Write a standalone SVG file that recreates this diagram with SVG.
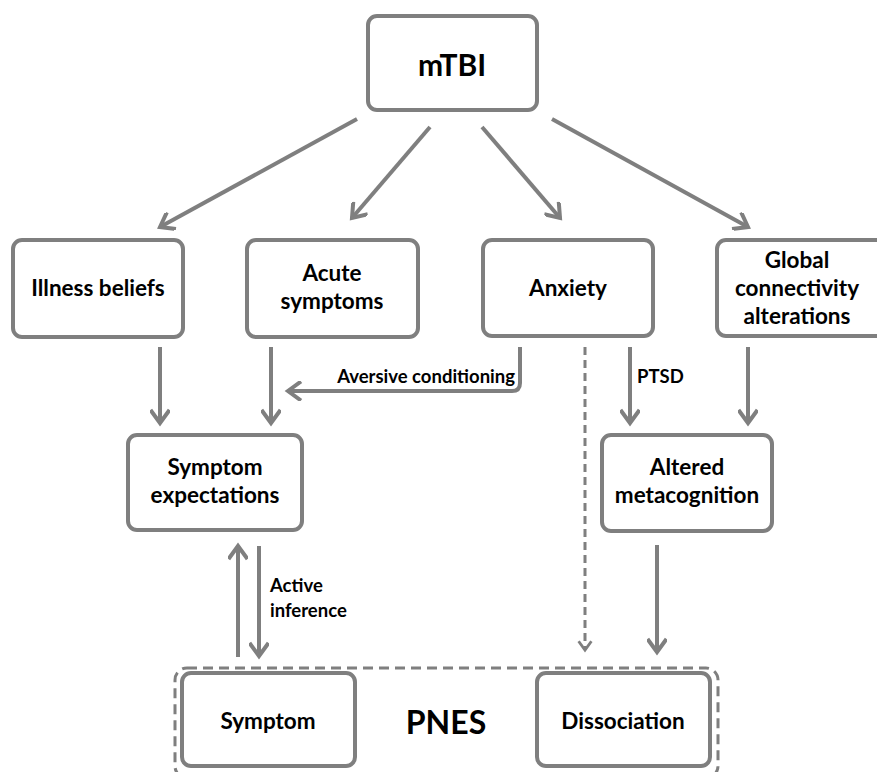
<svg xmlns="http://www.w3.org/2000/svg" width="877" height="772" viewBox="0 0 877 772">
<defs>
<marker id="ah" viewBox="0 0 20 20" refX="15" refY="10" markerWidth="20" markerHeight="20" markerUnits="userSpaceOnUse" orient="auto">
<path d="M 2 0.5 L 15 10 L 2 19.5" fill="none" stroke="#7f7f7f" stroke-width="4" stroke-linejoin="miter"/>
</marker>
<marker id="ahd" viewBox="0 0 20 20" refX="15" refY="10" markerWidth="16" markerHeight="16" markerUnits="userSpaceOnUse" orient="auto">
<path d="M 4 2 L 15 10 L 4 18" fill="none" stroke="#7f7f7f" stroke-width="3.5"/>
</marker>
</defs>
<style>
.box{fill:#fff;stroke:#7f7f7f;stroke-width:4}
.t{font-family:Lato,"Liberation Sans",sans-serif;font-weight:bold;font-size:22.5px;fill:#000;text-anchor:middle}
.lb{font-family:Lato,"Liberation Sans",sans-serif;font-weight:bold;font-size:18.5px;fill:#000}
.c{fill:none;stroke:#7f7f7f;stroke-width:4;marker-end:url(#ah)}
.d{fill:none;stroke:#7f7f7f;stroke-width:3;stroke-dasharray:8 5;marker-end:url(#ahd)}
</style>
<rect width="877" height="772" fill="#fff"/>
<g id="pnes-group">
<rect x="175" y="668" width="543" height="110" rx="12" fill="none" stroke="#7f7f7f" stroke-width="3" stroke-dasharray="10 6"/>
<text class="t" x="446" y="734" style="font-size:32px">PNES</text>
</g>
<g id="mtbi"><rect class="box" x="368" y="16" width="169" height="94" rx="9"/><text class="t" x="452" y="76" style="font-size:30px">mTBI</text></g>
<g id="illness"><rect class="box" x="13" y="240" width="170" height="97" rx="9"/><text class="t" x="98" y="296">Illness beliefs</text></g>
<g id="acute"><rect class="box" x="247" y="240" width="171" height="97" rx="9"/><text class="t" x="332" y="281">Acute</text><text class="t" x="332" y="309">symptoms</text></g>
<g id="anxiety"><rect class="box" x="483" y="240" width="170" height="96" rx="9"/><text class="t" x="568" y="296">Anxiety</text></g>
<g id="global"><rect class="box" x="717" y="240" width="170" height="96" rx="9"/><text class="t" x="797" y="268">Global</text><text class="t" x="797" y="296">connectivity</text><text class="t" x="797" y="324">alterations</text></g>
<g id="expectations"><rect class="box" x="128" y="435" width="174" height="95" rx="9"/><text class="t" x="215" y="475">Symptom</text><text class="t" x="215" y="503">expectations</text></g>
<g id="metacognition"><rect class="box" x="602" y="435" width="170" height="96" rx="9"/><text class="t" x="687" y="475">Altered</text><text class="t" x="687" y="503">metacognition</text></g>
<g id="symptom"><rect class="box" x="182" y="673" width="173" height="93" rx="9"/><text class="t" x="268" y="729">Symptom</text></g>
<g id="dissociation"><rect class="box" x="537" y="673" width="173" height="93" rx="9"/><text class="t" x="623" y="729">Dissociation</text></g>
<g id="connectors">
<line class="c" x1="357" y1="119" x2="160" y2="227"/>
<line class="c" x1="430" y1="127" x2="352" y2="218"/>
<line class="c" x1="482" y1="127" x2="560" y2="218"/>
<line class="c" x1="552" y1="119" x2="748" y2="227"/>
<line class="c" x1="160" y1="347" x2="160" y2="423"/>
<line class="c" x1="271" y1="347" x2="271" y2="423"/>
<path class="c" d="M 520 347 L 520 383 Q 520 391 512 391 L 288 391"/>
<text class="lb" x="515" y="383" text-anchor="end">Aversive conditioning</text>
<line class="c" x1="630" y1="347" x2="630" y2="423"/>
<text class="lb" x="637" y="383">PTSD</text>
<line class="c" x1="748" y1="347" x2="748" y2="423"/>
<line class="d" x1="585" y1="347" x2="585" y2="650"/>
<line class="c" x1="657" y1="545" x2="657" y2="652"/>
<line class="c" x1="238" y1="657" x2="238" y2="546"/>
<line class="c" x1="259" y1="546" x2="259" y2="656"/>
<text class="lb" x="270" y="592">Active</text>
<text class="lb" x="270" y="617">inference</text>
</g>
</svg>
